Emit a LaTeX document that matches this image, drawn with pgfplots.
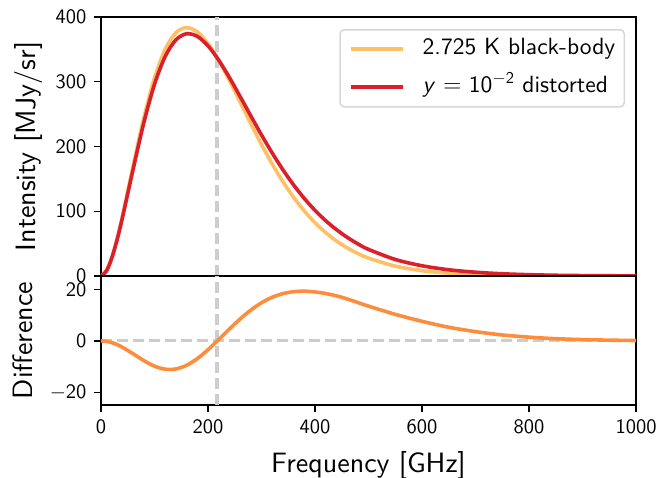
\documentclass[border=0pt]{standalone}
\usepackage{fontspec}
\setsansfont{lmsans10-regular}[Extension=.otf, ItalicFont=lmsans10-oblique, BoldFont=lmsans10-bold]
\usepackage{pgfplots}
\usepackage{pgfplotstable}
\pgfplotsset{compat=1.18}
\definecolor{bbcol}{RGB}{254,192,100}
\definecolor{ycol}{RGB}{218,32,42}
\definecolor{dcol}{RGB}{253,141,60}
\definecolor{dashgray}{RGB}{205,205,205}
\definecolor{leggray}{RGB}{215,215,215}

\pgfplotstableread{
nu    bb      dist    diff
0     0       0       0
10    7.66    7.49    -0.17
20    27.94   27.28   -0.66
30    57.18   55.74   -1.44
40    92.26   89.79   -2.47
60    169.68  164.68  -5.00
80    244.17  236.52  -7.65
100   305.94  296.13  -9.81
120   350.14  339.15  -10.99
140   375.61  364.71  -10.90
160   383.64  374.16  -9.48
180   376.96  370.07  -6.89
200   358.90  355.47  -3.43
220   332.87  333.38  0.51
240   301.95  306.55  4.60
260   268.74  277.24  8.50
280   235.27  247.22  11.95
300   203.03  217.83  14.80
320   172.98  189.93  16.95
340   145.73  164.08  18.35
360   121.54  140.64  19.10
380   100.45  119.75  19.30
400   82.35   101.35  19.00
420   67.01   85.41   18.40
440   54.16   71.66   17.50
460   43.51   59.81   16.30
480   34.75   49.65   14.90
500   27.62   41.12   13.50
550   15.24   25.54   10.30
600   8.20    15.80   7.60
650   4.32    9.62    5.30
700   2.24    5.84    3.60
750   1.14    3.44    2.30
800   0.57    2.02    1.45
850   0.285   1.135   0.85
900   0.140   0.640   0.50
950   0.069   0.349   0.28
1000  0.033   0.183   0.15
}\spec

\begin{document}
\begin{tikzpicture}
\useasboundingbox (-101pt,-72pt) rectangle (557pt,405pt);
\pgfplotsset{
  myaxis/.style={
    scale only axis, width=535pt, xmin=0, xmax=1000,
    axis line style={line width=1.3pt, black},
    every tick/.style={line width=1.3pt, black},
    tick align=outside, major tick length=7pt,
    xtick pos=bottom, ytick pos=left,
    tick label style={font=\sffamily\fontsize{20.5}{24}\selectfont},
    yticklabel style={xshift=-4pt},
    xticklabel style={yshift=-4pt},
    label style={font=\sffamily\fontsize{28}{33}\selectfont},
  }
}
\begin{axis}[myaxis, at={(0pt,129pt)}, anchor=south west, height=259pt,
  ymin=0, ymax=400, xtick=\empty,
  ytick={0,100,200,300,400}, yticklabels={0,100,200,300,400},
  ylabel={Intensity [MJy/sr]},
  ylabel style={at={(axis description cs:-0.1215,0.5)}, anchor=base},
  legend cell align=left,
  legend image code/.code={\draw[#1] (0pt,0pt) -- (52pt,0pt);},
  legend style={at={(1,1)}, anchor=north east, xshift=-11pt, yshift=-12pt,
    draw=leggray, line width=1.5pt, rounded corners=4pt, fill=white,
    font=\sffamily\fontsize{23.5}{27}\selectfont,
    inner xsep=9pt, inner ysep=9pt, row sep=17pt, column sep=18pt,
    nodes={inner sep=0pt, text height=16pt, text depth=5pt}},
]
\addplot[dashgray, line width=3.2pt, dash pattern=on 11pt off 5pt, forget plot] coordinates {(217,0) (217,400)};
\addplot[bbcol, line width=3.6pt, smooth] table[x=nu, y=bb] {\spec};
\addlegendentry{2.725 K black-body}
\addplot[ycol, line width=3.6pt, smooth] table[x=nu, y=dist] {\spec};
\addlegendentry{\textit{y} $=$ 10\textsuperscript{$-$2} distorted}
\end{axis}

\begin{axis}[myaxis, at={(0pt,0pt)}, anchor=south west, height=129pt,
  ymin=-24.9, ymax=25.2,
  xtick={0,200,400,600,800,1000}, xticklabels={0,200,400,600,800,1000},
  ytick={-20,0,20}, yticklabels={$-$20,0,20},
  xlabel={Frequency [GHz]},
  xlabel style={at={(axis description cs:0.5,-0.5194)}, anchor=base},
  ylabel={Difference},
  ylabel style={at={(axis description cs:-0.1277,0.5)}, anchor=base},
]
\addplot[dashgray, line width=3.2pt, dash pattern=on 11pt off 5pt] coordinates {(217,-24.9) (217,25.2)};
\addplot[dashgray, line width=3.2pt, dash pattern=on 11pt off 5pt] coordinates {(0,0) (1000,0)};
\addplot[dcol, line width=3.6pt, smooth] table[x=nu, y=diff] {\spec};
\end{axis}
\end{tikzpicture}
\end{document}
